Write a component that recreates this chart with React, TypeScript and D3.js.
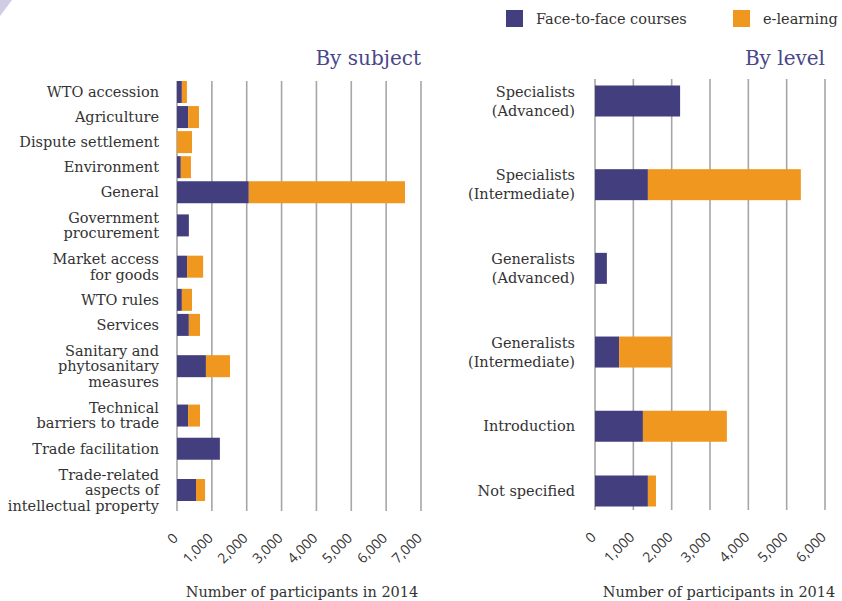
import * as React from "react";
import * as d3 from "d3";

// By subject panel
const subjectCategories = [
  "WTO accession",
  "Agriculture",
  "Dispute settlement",
  "Environment",
  "General",
  "Government\nprocurement",
  "Market access\nfor goods",
  "WTO rules",
  "Services",
  "Sanitary and\nphytosanitary\nmeasures",
  "Technical\nbarriers to trade",
  "Trade facilitation",
  "Trade-related\naspects of\nintellectual property",
];
const subjectFace = [140, 320, 0, 110, 2060, 340, 290, 140, 340, 830, 320, 1230, 545];
const subjectElearning = [145, 310, 430, 290, 4480, 0, 460, 290, 320, 690, 340, 0, 260];
const subjectTicks = [0, 1000, 2000, 3000, 4000, 5000, 6000, 7000];

// By level panel
const levelCategories = [
  "Specialists\n(Advanced)",
  "Specialists\n(Intermediate)",
  "Generalists\n(Advanced)",
  "Generalists\n(Intermediate)",
  "Introduction",
  "Not specified",
];
const levelFace = [2220, 1380, 310, 630, 1250, 1380];
const levelElearning = [0, 3990, 0, 1370, 2190, 210];
const levelTicks = [0, 1000, 2000, 3000, 4000, 5000, 6000];

const seriesNames = ["Face-to-face courses", "e-learning"];
const axisTitle = "Number of participants in 2014";

const PURPLE = "#433f7e";
const ORANGE = "#f0971f";
const TEXT = "#333333";
const GRID = "#a6a6a6";
const SERIF = "'DejaVu Serif', serif";
const SANS = "'Open Sans', 'DejaVu Sans', sans-serif";

interface PanelProps {
  title: string;
  categories: string[];
  face: number[];
  elearning: number[];
  ticks: number[];
  x0: number;
  x1: number;
  yTop: number;
  yBottom: number;
  firstCenter: number;
  lastCenter: number;
  rowBase: number;
  rowStep: number;
  barHeight: number;
  lineHeight: number;
  labelX: number;
  axisTitleX: number;
}

function Panel(p: PanelProps) {
  const x = d3
    .scaleLinear()
    .domain([0, p.ticks[p.ticks.length - 1]])
    .range([p.x0, p.x1]);

  // rows with more label lines take more room
  const lines = p.categories.map((c) => c.split("\n").length);
  const heights = lines.map((n) => p.rowBase + (n - 1) * p.rowStep);
  const units: number[] = [0];
  for (let i = 1; i < heights.length; i++) {
    units.push(units[i - 1] + (heights[i - 1] + heights[i]) / 2);
  }
  const y = d3
    .scaleLinear()
    .domain([0, units[units.length - 1]])
    .range([p.firstCenter, p.lastCenter]);

  const rows = p.categories.map((c, i) => ({
    name: c,
    face: p.face[i],
    elearning: p.elearning[i],
  }));
  const stacked = d3.stack<any>().keys(["face", "elearning"])(rows);
  const colors = [PURPLE, ORANGE];

  return (
    <g>
      <text
        x={p.x1}
        y={65}
        textAnchor="end"
        fontFamily={SERIF}
        fontSize={20}
        fill="#4a4789"
      >
        {p.title}
      </text>
      {p.ticks.map((t) => (
        <line
          key={t}
          x1={x(t)}
          x2={x(t)}
          y1={p.yTop}
          y2={p.yBottom}
          stroke={GRID}
          strokeWidth={1.6}
        />
      ))}
      {stacked.map((s, si) =>
        s.map((d, i) =>
          d[1] - d[0] > 0 ? (
            <rect
              key={si + "-" + i}
              x={x(d[0])}
              y={y(units[i]) - p.barHeight / 2}
              width={x(d[1]) - x(d[0])}
              height={p.barHeight}
              fill={colors[si]}
            />
          ) : null
        )
      )}
      {p.categories.map((c, i) => {
        const parts = c.split("\n");
        const cy = y(units[i]);
        const start = cy - ((parts.length - 1) * p.lineHeight) / 2;
        return (
          <text
            key={c}
            x={p.labelX}
            textAnchor="end"
            fontFamily={SERIF}
            fontSize={14.5}
            fill={TEXT}
          >
            {parts.map((t, j) => (
              <tspan key={j} x={p.labelX} y={start + j * p.lineHeight} dy="0.35em">
                {t}
              </tspan>
            ))}
          </text>
        );
      })}
      {p.ticks.map((t) => (
        <text
          key={"t" + t}
          transform={`translate(${x(t) + 2},${p.yBottom + 28}) rotate(-45)`}
          textAnchor="end"
          fontFamily={SANS}
          fontSize={14}
          fill={TEXT}
        >
          {d3.format(",")(t)}
        </text>
      ))}
      <text
        x={p.axisTitleX}
        y={597}
        textAnchor="middle"
        fontFamily={SERIF}
        fontSize={14.5}
        fill={TEXT}
      >
        {axisTitle}
      </text>
    </g>
  );
}

export default function App() {
  return (
    <svg
      width={842}
      height={601}
      style={{ position: "absolute", left: 0, top: 0, background: "#fff" }}
    >
      <polygon points="0,0 12,0 0,16" fill="#cfcde6" />
      <g>
        {seriesNames.map((s, i) => (
          <g key={s} transform={`translate(${i === 0 ? 506 : 733},10)`}>
            <rect width={17} height={17} fill={i === 0 ? PURPLE : ORANGE} />
            <text
              x={30}
              y={14}
              fontFamily={SERIF}
              fontSize={14.5}
              fill={TEXT}
            >
              {s}
            </text>
          </g>
        ))}
      </g>
      <Panel
        title="By subject"
        categories={subjectCategories}
        face={subjectFace}
        elearning={subjectElearning}
        ticks={subjectTicks}
        x0={177}
        x1={421}
        yTop={81}
        yBottom={511}
        firstCenter={92}
        lastCenter={490}
        rowBase={25.5}
        rowStep={16.5}
        barHeight={22}
        lineHeight={15.5}
        labelX={159}
        axisTitleX={302}
      />
      <Panel
        title="By level"
        categories={levelCategories}
        face={levelFace}
        elearning={levelElearning}
        ticks={levelTicks}
        x0={595}
        x1={825}
        yTop={79}
        yBottom={510}
        firstCenter={101}
        lastCenter={491}
        rowBase={65}
        rowStep={19}
        barHeight={31}
        lineHeight={19}
        labelX={575}
        axisTitleX={719}
      />
    </svg>
  );
}
